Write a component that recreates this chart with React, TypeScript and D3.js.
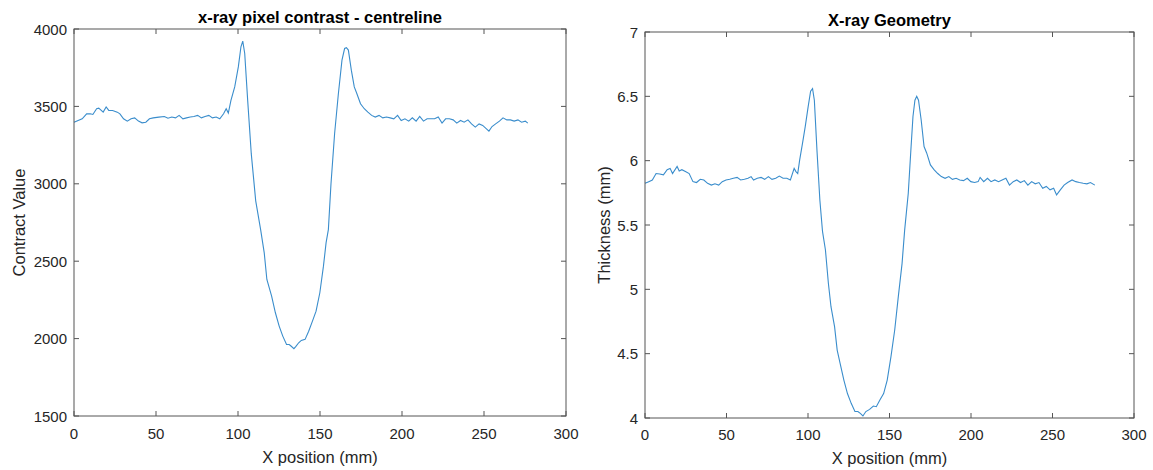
import React from "react";
import * as d3 from "d3";

const contrastX = [0,5.0,7.7,9.9,11.5,13.8,15.1,17.8,19.6,21.2,23.5,26.4,28.0,30.2,32.5,34.8,37.0,39.3,41.5,43.8,46.0,48.3,51.7,55.1,57.3,59.6,61.9,64.1,66.4,68.6,70.9,73.1,75.4,77.7,79.9,82.2,84.4,86.7,88.9,91.2,92.8,94.1,95.7,98.0,100.2,101.8,102.9,104.1,105.9,108.1,110.8,113.8,116.0,117.6,120.5,122.8,125.1,127.3,129.6,131.2,132.3,134.1,135.2,137.0,138.6,140.9,143.1,145.4,147.6,149.9,152.1,153.7,155.1,156.7,158.9,161.2,163.4,165.0,166.1,167.3,169.1,170.9,172.5,174.7,177.0,179.2,181.5,183.7,186.0,188.3,190.5,192.8,195.0,197.3,199.5,201.8,204.1,206.3,208.6,210.8,213.1,215.3,217.6,219.9,222.1,224.4,226.6,228.9,231.2,233.4,235.7,237.9,240.2,242.4,244.7,247.0,249.2,251.5,253.0,254.9,257.1,259.4,261.6,263.9,266.1,268.4,270.7,272.9,275.2,276.7];
const contrastY = [3398,3420,3452,3452,3448,3485,3489,3463,3496,3474,3474,3463,3452,3420,3405,3420,3426,3405,3394,3398,3420,3426,3431,3435,3424,3431,3426,3442,3420,3426,3431,3435,3442,3426,3435,3442,3426,3431,3420,3452,3485,3457,3539,3626,3755,3885,3922,3842,3539,3193,2890,2704,2554,2382,2274,2167,2081,2016,1962,1962,1952,1935,1948,1973,1988,1995,2048,2113,2177,2296,2468,2618,2704,3000,3323,3582,3799,3874,3879,3864,3734,3626,3582,3517,3485,3463,3442,3431,3442,3426,3431,3426,3420,3442,3409,3420,3405,3426,3405,3435,3405,3420,3420,3420,3431,3392,3420,3420,3413,3392,3409,3398,3413,3387,3366,3387,3377,3355,3340,3370,3387,3405,3426,3413,3413,3405,3413,3398,3405,3392];

const thickX = [0,2.3,4.5,6.8,9.0,11.3,13.6,15.4,16.9,19.7,21.0,22.6,24.8,27.1,29.4,31.6,33.9,36.1,38.4,40.7,42.9,45.2,47.4,49.7,52.0,54.2,56.5,58.7,61.0,63.2,65.1,66.6,68.9,71.2,73.4,75.7,77.9,80.2,82.4,84.7,87.0,89.2,91.5,92.6,93.7,94.9,96.7,98.3,100.1,101.6,102.8,103.9,105.5,107.3,108.9,110.7,112.5,114.1,116.3,117.9,119.7,122.0,124.2,126.5,128.8,130.6,132.1,133.7,135.5,137.8,140.1,141.9,144.1,146.4,148.6,150.9,153.2,155.4,157.7,159.3,161.5,163.1,164.4,165.6,166.7,167.8,169.4,171.2,172.8,175.1,177.3,179.6,181.8,184.1,186.4,188.6,190.9,193.1,195.4,197.7,199.9,202.2,204.4,205.6,207.8,210.1,212.3,214.6,216.9,219.1,221.4,223.6,225.9,228.1,230.4,232.7,234.9,237.2,239.4,241.7,244.0,246.2,248.5,250.7,252.5,254.8,257.1,259.3,262.0,264.3,266.5,268.8,271.1,273.3,276.0];
const thickY = [5.824,5.837,5.85,5.90,5.897,5.89,5.93,5.94,5.90,5.955,5.92,5.93,5.915,5.90,5.837,5.83,5.855,5.85,5.824,5.81,5.82,5.81,5.837,5.85,5.855,5.863,5.87,5.85,5.855,5.863,5.876,5.85,5.863,5.87,5.855,5.876,5.855,5.863,5.88,5.863,5.863,5.85,5.94,5.915,5.90,6.006,6.14,6.265,6.42,6.54,6.56,6.47,6.08,5.69,5.45,5.306,5.047,4.865,4.71,4.528,4.425,4.295,4.19,4.114,4.05,4.05,4.036,4.016,4.05,4.067,4.093,4.088,4.14,4.19,4.295,4.477,4.684,4.943,5.20,5.46,5.745,6.08,6.343,6.47,6.50,6.47,6.32,6.11,6.06,5.967,5.93,5.90,5.876,5.863,5.876,5.855,5.863,5.85,5.845,5.863,5.837,5.83,5.837,5.87,5.837,5.863,5.837,5.85,5.837,5.85,5.863,5.81,5.837,5.85,5.83,5.845,5.81,5.837,5.82,5.83,5.785,5.80,5.773,5.785,5.734,5.773,5.81,5.83,5.85,5.837,5.83,5.824,5.82,5.83,5.81];

const xTicks = [0, 50, 100, 150, 200, 250, 300];
const contrastTicks = [1500, 2000, 2500, 3000, 3500, 4000];
const thickTicks = [4, 4.5, 5, 5.5, 6, 6.5, 7];

const FONT = "'Liberation Sans', Arial, Helvetica, sans-serif";
const AXIS = "#555555";
const TEXT = "#262626";
const LINE = "#3a8dcc";

type PanelProps = {
  left: number; right: number; top: number; bottom: number;
  xs: number[]; ys: number[]; yDomain: [number, number]; yTicks: number[];
  title: string; yLabel: string; yLabelX: number; xLabelY: number; xTickY: number;
};

function Panel(p: PanelProps) {
  const x = d3.scaleLinear().domain([0, 300]).range([p.left, p.right]);
  const y = d3.scaleLinear().domain(p.yDomain).range([p.bottom, p.top]);
  const pts: [number, number][] = p.xs.map((v, i) => [v, p.ys[i]]);
  const path = d3.line<[number, number]>().x(d => x(d[0])).y(d => y(d[1]))(pts) || "";
  const tl = 5;
  const midY = (p.top + p.bottom) / 2;
  return (
    <g fontFamily={FONT}>
      <path d={path} fill="none" stroke={LINE} strokeWidth={1.1} />
      <rect x={p.left} y={p.top} width={p.right - p.left} height={p.bottom - p.top} fill="none" stroke={AXIS} strokeWidth={1} />
      {xTicks.map(t => (
        <g key={"x" + t}>
          <line x1={x(t)} x2={x(t)} y1={p.bottom} y2={p.bottom - tl} stroke={AXIS} />
          <line x1={x(t)} x2={x(t)} y1={p.top} y2={p.top + tl} stroke={AXIS} />
          <text x={x(t)} y={p.xTickY} textAnchor="middle" dominantBaseline="central" fontSize={15} fill={TEXT}>{t}</text>
        </g>
      ))}
      {p.yTicks.map(t => (
        <g key={"y" + t}>
          <line x1={p.left} x2={p.left + tl} y1={y(t)} y2={y(t)} stroke={AXIS} />
          <line x1={p.right} x2={p.right - tl} y1={y(t)} y2={y(t)} stroke={AXIS} />
          <text x={p.left - 7} y={y(t)} textAnchor="end" dominantBaseline="central" fontSize={15} fill={TEXT}>{t}</text>
        </g>
      ))}
      <text x={(p.left + p.right) / 2} y={p.top - 12} textAnchor="middle" dominantBaseline="central" fontSize={16.5} fontWeight="bold" fill="#000">{p.title}</text>
      <text x={(p.left + p.right) / 2} y={p.xLabelY} textAnchor="middle" dominantBaseline="central" fontSize={16.5} fill={TEXT}>X position (mm)</text>
      <text transform={`translate(${p.yLabelX},${midY}) rotate(-90)`} textAnchor="middle" dominantBaseline="central" fontSize={16.5} fill={TEXT}>{p.yLabel}</text>
    </g>
  );
}

export default function App() {
  return (
    <div style={{ position: "absolute", left: 0, top: 0 }}>
      <svg width={1153} height={470} style={{ display: "block", background: "#fff" }}>
        <Panel left={74} right={566} top={29} bottom={416} xs={contrastX} ys={contrastY}
          yDomain={[1500, 4000]} yTicks={contrastTicks} title="x-ray pixel contrast - centreline"
          yLabel="Contract Value" yLabelX={19} xLabelY={457} xTickY={433} />
        <Panel left={645} right={1134} top={32} bottom={418} xs={thickX} ys={thickY}
          yDomain={[4, 7]} yTicks={thickTicks} title="X-ray Geometry"
          yLabel="Thickness (mm)" yLabelX={604} xLabelY={458} xTickY={434} />
      </svg>
    </div>
  );
}
